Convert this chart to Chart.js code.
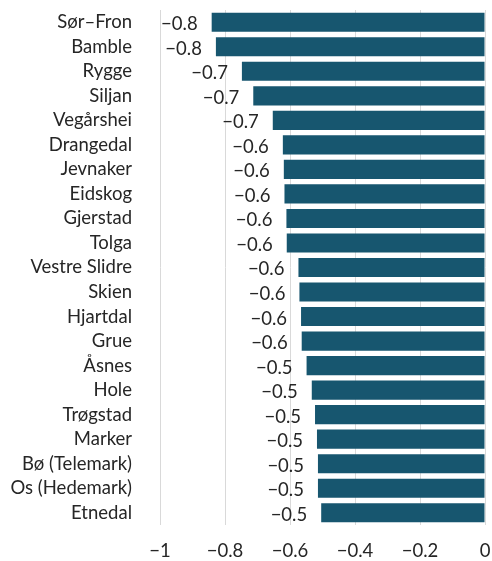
<!DOCTYPE html>
<html>
<head>
<meta charset="utf-8">
<script src="https://cdn.jsdelivr.net/npm/chart.js@4/dist/chart.umd.min.js"></script>
<style>
  html, body { margin: 0; padding: 0; background: #fff; }
  #wrap { width: 492px; height: 561px; }
</style>
</head>
<body>
<div id="wrap"><canvas id="barChart"></canvas></div>
<script>
// municipalities, top to bottom
const municipalities = [
  'Sør–Fron', 'Bamble', 'Rygge', 'Siljan', 'Vegårshei', 'Drangedal', 'Jevnaker',
  'Eidskog', 'Gjerstad', 'Tolga', 'Vestre Slidre', 'Skien', 'Hjartdal', 'Grue',
  'Åsnes', 'Hole', 'Trøgstad', 'Marker', 'Bø (Telemark)', 'Os (Hedemark)', 'Etnedal'
];
const values = [
  -0.841, -0.828, -0.748, -0.713, -0.653, -0.622, -0.619,
  -0.617, -0.611, -0.610, -0.574, -0.571, -0.566, -0.564,
  -0.549, -0.533, -0.523, -0.517, -0.514, -0.514, -0.504
];
const xTicks = [-1, -0.8, -0.6, -0.4, -0.2, 0];

const FONT = 'Lato, "Open Sans", sans-serif';
const FONT_SIZE = 18.5;

function fmt(v) {
  const n = Number(Number(v).toFixed(1));
  return String(n).replace('-', '\u2212');
}

// value labels drawn left of each bar's start
const valueLabels = {
  id: 'valueLabels',
  afterDatasetsDraw(chart) {
    const ctx = chart.ctx;
    const meta = chart.getDatasetMeta(0);
    ctx.save();
    ctx.font = FONT_SIZE + 'px ' + FONT;
    ctx.fillStyle = '#262626';
    ctx.textAlign = 'right';
    ctx.textBaseline = 'middle';
    meta.data.forEach((bar, i) => {
      ctx.fillText(fmt(values[i]), bar.x - 14, bar.y + 2);
    });
    ctx.restore();
  }
};

const ctx = document.getElementById('barChart').getContext('2d');
new Chart(ctx, {
  type: 'bar',
  data: {
    labels: municipalities,
    datasets: [{
      data: values,
      backgroundColor: '#17566f',
      borderWidth: 0,
      barPercentage: 0.78,
      categoryPercentage: 1.0
    }]
  },
  options: {
    indexAxis: 'y',
    responsive: true,
    maintainAspectRatio: false,
    animation: false,
    layout: { padding: { top: 10, right: 0, bottom: 0, left: 0 } },
    plugins: {
      legend: { display: false },
      tooltip: { enabled: false }
    },
    scales: {
      x: {
        min: -1,
        max: 0,
        afterBuildTicks(scale) {
          scale.ticks = xTicks.map(v => ({ value: v }));
        },
        afterFit(scale) {
          scale.height = 36;
          scale.paddingLeft = 0;
          scale.paddingRight = 7;
        },
        grid: { color: '#d9d9d9', lineWidth: 1, drawTicks: false },
        border: { display: false },
        ticks: {
          padding: 15,
          color: '#262626',
          maxRotation: 0,
          font: { family: FONT, size: FONT_SIZE },
          callback: v => fmt(v)
        }
      },
      y: {
        afterFit(scale) {
          scale.width = 160;
          scale.paddingTop = 0;
          scale.paddingBottom = 0;
        },
        grid: { display: false },
        border: { display: false },
        ticks: {
          padding: 20,
          color: '#262626',
          font: { family: FONT, size: FONT_SIZE },
          autoSkip: false
        }
      }
    }
  },
  plugins: [valueLabels]
});
</script>
</body>
</html>
